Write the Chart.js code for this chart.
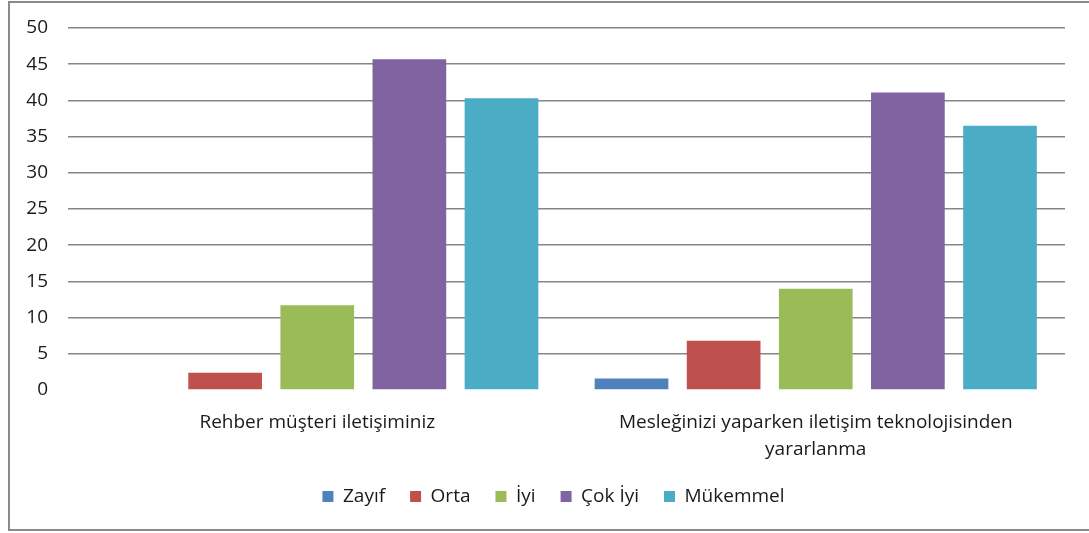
<!DOCTYPE html>
<html>
<head>
<meta charset="utf-8">
<script src="https://cdn.jsdelivr.net/npm/chart.js@4.4.1/dist/chart.umd.min.js"></script>
<style>
  html, body { margin: 0; padding: 0; background: #fff; }
  #frame { position: absolute; left: 8px; top: 1px; width: 1100px; height: 530px; border: 2px solid #8a8a8a; box-sizing: border-box; }
  #wrap { position: absolute; left: 0; top: 0; width: 1089px; height: 533px; }
</style>
</head>
<body>
<div id="frame"></div>
<div id="wrap"><canvas id="chart"></canvas></div>
<script>
// kategoriler ve seriler
const categories = ["Rehber müşteri iletişiminiz", ["Mesleğinizi yaparken iletişim teknolojisinden", "yararlanma"]];
const seriesNames = ["Zayıf", "Orta", "İyi", "Çok İyi", "Mükemmel"];
const zayif = [0, 1.6];
const orta = [2.4, 6.8];
const iyi = [11.7, 14.0];
const cokIyi = [45.7, 41.1];
const mukemmel = [40.3, 36.5];
const yTicks = [0, 5, 10, 15, 20, 25, 30, 35, 40, 45, 50];

const colors = ["#4F81BD", "#C0504D", "#9BBB59", "#8064A2", "#4BACC6"];
const values = [zayif, orta, iyi, cokIyi, mukemmel];

const family = "'Open Sans', 'Noto Sans', sans-serif";

// legend is centred on the whole frame, not on the plot
const legendShift = {
  id: "legendShift",
  afterLayout(chart) {
    chart.legend.left += 21;
    chart.legend.right += 21;
  },
};

new Chart(document.getElementById("chart").getContext("2d"), {
  type: "bar",
  data: {
    labels: categories,
    datasets: seriesNames.map((name, i) => ({
      label: name,
      data: values[i],
      backgroundColor: colors[i],
      borderWidth: 0,
      categoryPercentage: 0.924,
      barPercentage: 0.8,
    })),
  },
  options: {
    responsive: true,
    maintainAspectRatio: false,
    animation: false,
    layout: { padding: { left: 0, right: 24, top: 28, bottom: 17 } },
    plugins: {
      tooltip: { enabled: false },
      legend: {
        position: "bottom",
        labels: { boxWidth: 11, boxHeight: 11, color: "#1a1a1a", font: { family, size: 19 }, padding: 25 },
      },
    },
    scales: {
      x: {
        grid: { display: false },
        border: { display: false },
        afterFit: (s) => { s.height -= 12; },
        ticks: { color: "#1a1a1a", font: { family, size: 19, lineHeight: 1.42 }, maxRotation: 0, padding: 11 },
      },
      y: {
        min: 0,
        max: 50,
        afterBuildTicks: (s) => { s.ticks = yTicks.map((v) => ({ value: v })); },
        afterFit: (s) => { s.width = 68; s.paddingTop = 0; s.paddingBottom = 0; },
        border: { display: false },
        grid: {
          drawTicks: false,
          color: (c) => (c.tick && c.tick.value === 0 ? "rgba(0,0,0,0)" : "#868686"),
          lineWidth: 1.5,
        },
        ticks: { color: "#1a1a1a", font: { family, size: 19 }, padding: 20 },
      },
    },
  },
  plugins: [legendShift],
});
</script>
</body>
</html>
